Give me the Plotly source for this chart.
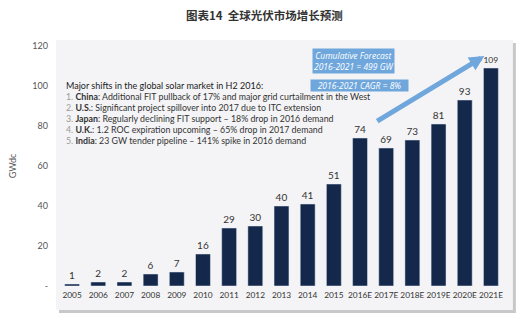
import plotly.graph_objects as go

years = ["2005", "2006", "2007", "2008", "2009", "2010", "2011", "2012", "2013",
         "2014", "2015", "2016E", "2017E", "2018E", "2019E", "2020E", "2021E"]
gw = [1, 2, 2, 6, 7, 16, 29, 30, 40, 41, 51, 74, 69, 73, 81, 93, 109]
y_ticks = [0, 20, 40, 60, 80, 100, 120]
y_ticktext = ["-", "20", "40", "60", "80", "100", "120"]

title = "图表14  全球光伏市场增长预测"
note_head = "Major shifts in the global solar market in H2 2016:"
note_lines = [
    ("1.", "China", ": Additional FIT pullback of 17% and major grid curtailment in the West"),
    ("2.", "U.S.", ": Significant project spillover into 2017 due to ITC extension"),
    ("3.", "Japan", ": Regularly declining FIT support – 18% drop in 2016 demand"),
    ("4.", "U.K.", ": 1.2 ROC expiration upcoming – 65% drop in 2017 demand"),
    ("5.", "India", ": 23 GW tender pipeline – 141% spike in 2016 demand"),
]

FONT = "Lato, Noto Sans CJK SC, sans-serif"
BOXFONT = "Open Sans, sans-serif"
navy = "#13284a"
lightblue = "#6fa7dc"

fig = go.Figure()
fig.add_trace(go.Bar(
    x=years, y=gw, marker_color=navy, width=0.57,
    text=[str(v) for v in gw], textposition="outside",
    textfont=dict(size=10, color="#333", family=FONT),
    cliponaxis=False,
))

L, R, T, B = 55, 21, 46, 42
W, H = 525, 328
pw, ph = W - L - R, H - T - B

def px2paper(x, y):
    return (x - L) / pw, (H - B - y) / ph

shapes = []
# shadow
x0, y0 = px2paper(55, 43)
x1, y1 = px2paper(516, 313)
shapes.append(dict(type="rect", xref="paper", yref="paper", x0=x0, y0=y1, x1=x1, y1=y0,
                   fillcolor="#9a9a9a", line=dict(width=0), layer="below", opacity=0.55))
# panel
x0, y0 = px2paper(52, 40)
x1, y1 = px2paper(513, 310)
shapes.append(dict(type="rect", xref="paper", yref="paper", x0=x0, y0=y1, x1=x1, y1=y0,
                   fillcolor="#f4f4f6", line=dict(width=0), layer="below"))

annotations = []
annotations.append(dict(text=f"<b>{title}</b>", xref="paper", yref="paper",
                        x=(262 - L) / pw, y=(H - B - 15) / ph, showarrow=False,
                        font=dict(size=11.5, color="#333", family="Noto Sans CJK SC"),
                        xanchor="center", yanchor="middle"))
# note block
xn, yn = px2paper(60, 85)
annotations.append(dict(text=note_head, xref="paper", yref="paper", x=xn, y=yn,
                        showarrow=False, xanchor="left", yanchor="middle",
                        font=dict(size=9, color="#222", family=FONT)))
for i, (num, bold, rest) in enumerate(note_lines):
    xn, yn = px2paper(60, 96.5 + i * 11.1)
    annotations.append(dict(
        text=f"<span style='color:#999'>{num}</span> <b>{bold}</b>{rest}",
        xref="paper", yref="paper", x=xn, y=yn, showarrow=False,
        xanchor="left", yanchor="middle",
        font=dict(size=8.8, color="#333", family=FONT)))

# arrow
annotations.append(dict(x=15.75, y=115, ax=11.6, ay=82, xref="x", yref="y",
                        axref="x", ayref="y", showarrow=True, arrowhead=2,
                        arrowsize=0.6, arrowwidth=5, arrowcolor=lightblue, text=""))
# blue boxes
xb, yb = px2paper(352, 61)
annotations.append(dict(text="<i>Cumulative Forecast<br>2016-2021 = 499 GW</i>",
                        xref="paper", yref="paper", x=xb, y=yb, showarrow=False,
                        xanchor="center", yanchor="middle", bgcolor=lightblue,
                        borderpad=1, font=dict(size=8.5, color="white", family=BOXFONT)))
xb, yb = px2paper(358, 85)
annotations.append(dict(text="<i>2016-2021 CAGR = 8%</i>",
                        xref="paper", yref="paper", x=xb, y=yb, showarrow=False,
                        xanchor="center", yanchor="middle", bgcolor=lightblue,
                        borderpad=0, width=97, height=11,
                        font=dict(size=8.5, color="white", family=BOXFONT)))

fig.update_layout(
    width=W, height=H, margin=dict(l=L, r=R, t=T, b=B),
    paper_bgcolor="white", plot_bgcolor="rgba(0,0,0,0)",
    showlegend=False, shapes=shapes, annotations=annotations,
    font=dict(family=FONT),
    bargap=0.43,
)
fig.update_xaxes(showgrid=False, showline=False, zeroline=False, ticks="",
                 tickangle=0, tickfont=dict(size=8.3, color="#333"), ticklabelstandoff=3)
fig.update_yaxes(range=[0, 120], tickvals=y_ticks, ticktext=y_ticktext,
                 showgrid=False, zeroline=False, showline=False, ticks="",
                 tickfont=dict(size=9, color="#555"), ticklabelstandoff=10,
                 title=dict(text="GWdc", font=dict(size=9, color="#555"), standoff=14))

fig.write_html("out.html")
